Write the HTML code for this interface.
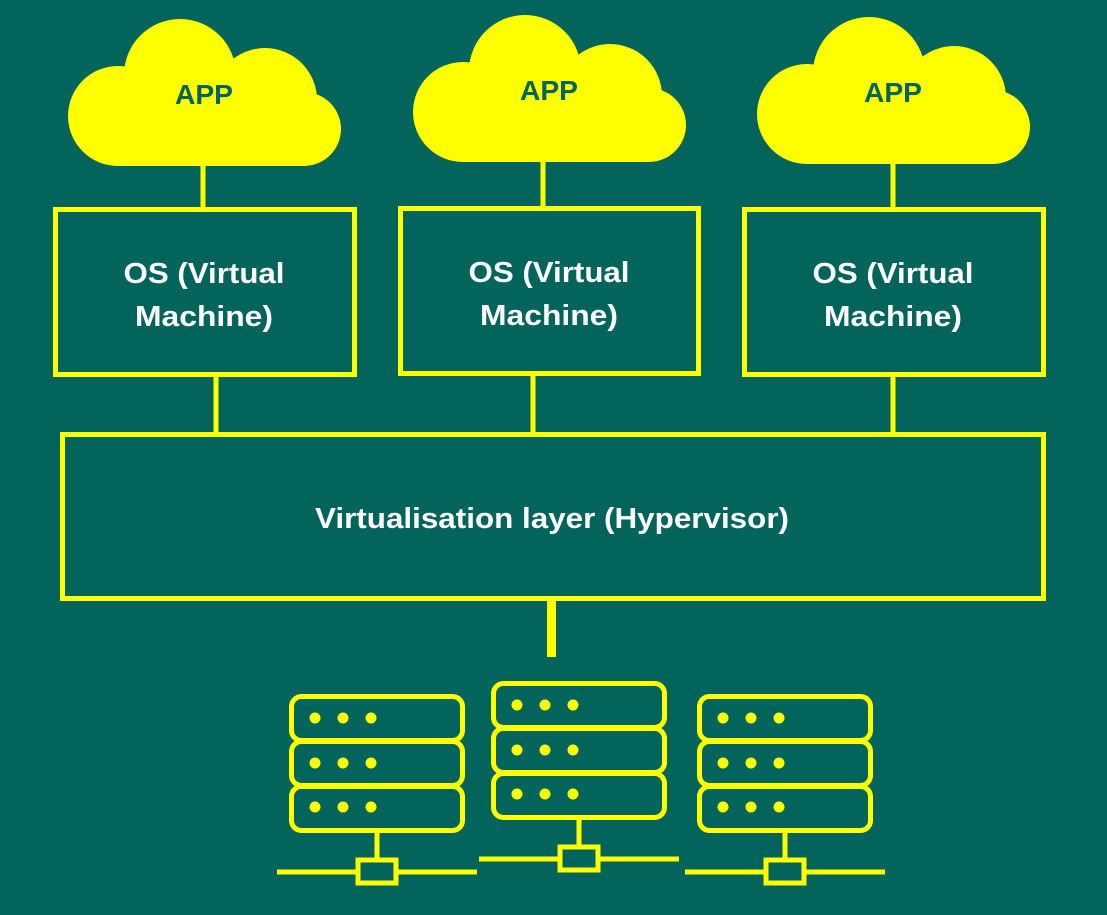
<!DOCTYPE html>
<html><head><meta charset="utf-8"><style>
html,body{margin:0;padding:0;background:#02645A;}
svg{display:block}
text{font-family:"Liberation Sans",sans-serif;font-weight:bold;}
</style></head><body>
<svg width="1107" height="915" viewBox="0 0 1107 915" xmlns="http://www.w3.org/2000/svg">
<rect width="1107" height="915" fill="#02645A"/>
<defs>
<g id="cloud" fill="#FFFF00">
<circle cx="118" cy="116" r="50"/>
<circle cx="180" cy="75" r="56"/>
<circle cx="265" cy="100" r="52"/>
<circle cx="304" cy="129" r="37"/>
<rect x="118" y="100" width="186" height="66"/>
</g>
<g id="server" fill="none" stroke="#FFFF00" stroke-width="5">
<rect x="2.5" y="2.5" width="171" height="44" rx="10"/>
<rect x="2.5" y="47.5" width="171" height="44" rx="10"/>
<rect x="2.5" y="92.5" width="171" height="44" rx="10"/>
<g fill="#FFFF00" stroke="none">
<circle cx="26" cy="24" r="5.5"/><circle cx="54" cy="24" r="5.5"/><circle cx="82" cy="24" r="5.5"/>
<circle cx="26" cy="69" r="5.5"/><circle cx="54" cy="69" r="5.5"/><circle cx="82" cy="69" r="5.5"/>
<circle cx="26" cy="113" r="5.5"/><circle cx="54" cy="113" r="5.5"/><circle cx="82" cy="113" r="5.5"/>
</g>
<line x1="88" y1="139" x2="88" y2="166"/>
<line x1="-12" y1="178" x2="67" y2="178"/>
<line x1="109" y1="178" x2="188" y2="178"/>
<rect x="69" y="166" width="38" height="23"/>
</g>
</defs>

<use href="#cloud"/>
<use href="#cloud" transform="translate(345,-4)"/>
<use href="#cloud" transform="translate(689,-2)"/>
<g fill="#02645A" font-size="28" text-anchor="middle">
<text x="204" y="104" textLength="58" lengthAdjust="spacingAndGlyphs">APP</text>
<text x="549" y="100" textLength="58" lengthAdjust="spacingAndGlyphs">APP</text>
<text x="893" y="102" textLength="58" lengthAdjust="spacingAndGlyphs">APP</text>
</g>

<g stroke="#FFFF00" stroke-width="5" fill="none">
<line x1="203" y1="164" x2="203" y2="208"/>
<line x1="543" y1="158" x2="543" y2="207"/>
<line x1="893" y1="162" x2="893" y2="208"/>
<rect x="55.5" y="209.5" width="299" height="165"/>
<rect x="400.5" y="208.5" width="298" height="165"/>
<rect x="744.5" y="209.5" width="299" height="165"/>
<line x1="216" y1="376" x2="216" y2="433"/>
<line x1="533" y1="375" x2="533" y2="433"/>
<line x1="893" y1="376" x2="893" y2="433"/>
<rect x="62.5" y="434.5" width="981" height="164"/>
</g>
<rect x="547" y="600" width="9" height="57" fill="#FFFF00"/>

<g fill="#FFFFFF" font-size="29" text-anchor="middle">
<text x="204" y="283" textLength="161" lengthAdjust="spacingAndGlyphs">OS (Virtual</text>
<text x="204" y="326" textLength="138" lengthAdjust="spacingAndGlyphs">Machine)</text>
<text x="549" y="282" textLength="161" lengthAdjust="spacingAndGlyphs">OS (Virtual</text>
<text x="549" y="325" textLength="138" lengthAdjust="spacingAndGlyphs">Machine)</text>
<text x="893" y="283" textLength="161" lengthAdjust="spacingAndGlyphs">OS (Virtual</text>
<text x="893" y="326" textLength="138" lengthAdjust="spacingAndGlyphs">Machine)</text>
<text x="552" y="528" textLength="474" lengthAdjust="spacingAndGlyphs">Virtualisation layer (Hypervisor)</text>
</g>

<use href="#server" transform="translate(289,694)"/>
<use href="#server" transform="translate(491,681)"/>
<use href="#server" transform="translate(697,694)"/>
</svg>
</body></html>
